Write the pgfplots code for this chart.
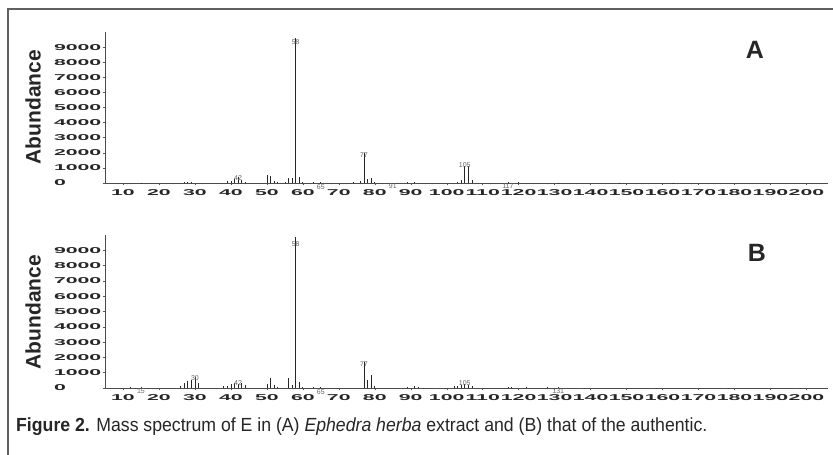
\documentclass[border=0pt]{standalone}
\usepackage{pgfplots}
\pgfplotsset{compat=1.18}
\usepackage{pgfplotstable}
\usepackage{fontspec}
\setmainfont{Liberation Sans}
\newfontfamily\tickfont[FakeStretch=2.5]{Liberation Sans}
\newfontfamily\capfont[FakeStretch=0.93]{Liberation Sans}

\pgfplotstableread{
m a
15 30
27 60
28 80
29 60
39 100
40 150
41 250
42 420
43 200
44 80
50 520
51 480
52 150
53 60
55 80
56 350
57 300
58 9600
59 380
60 50
63 40
65 60
74 40
76 100
77 2000
78 250
79 320
80 60
89 40
91 80
103 60
104 200
105 1150
106 1150
107 180
117 40
120 40
131 30
148 30
163 30
}\specA

\pgfplotstableread{
m a
12 50
15 80
26 150
27 300
28 450
29 500
30 750
31 300
38 100
39 150
40 250
41 300
42 250
43 300
44 200
50 250
51 650
52 200
53 80
56 650
57 200
58 9900
59 400
60 60
63 50
65 60
77 1700
78 500
79 850
80 100
89 60
91 150
92 60
102 100
103 150
104 200
105 250
106 200
107 150
117 80
118 60
122 40
128 40
131 50
}\specB

\tikzset{plab/.style={font=\fontsize{7}{7}\selectfont, text=gray!80!black}}
\pgfplotsset{
  spec/.style={
    scale only axis, width=723pt, height=151pt, anchor=south west,
    xmin=5, xmax=206, ymin=0, ymax=10000,
    axis x line*=bottom, axis y line*=left,
    xtick={10,20,...,200}, ytick={0,1000,...,9000},
    minor x tick num=4,
    tick align=outside, major tick length=2.5pt, minor tick length=1.5pt,
    tick style={gray!70!black, line width=0.4pt},
    axis line style={gray!60!black, line width=0.5pt},
    scaled y ticks=false, scaled x ticks=false,
    /pgf/number format/1000 sep={},
    /pgf/number format/assume math mode=true,
    ticklabel style={font=\tickfont\bfseries\fontsize{8.5}{8.5}\selectfont, text=black!85},
    xticklabel style={yshift=-1pt},
    yticklabel style={anchor=west, xshift=-52pt},
    clip=false,
  },
  peak/.style={ycomb, black!85, line width=0.7pt, mark=none},
}

\begin{document}
\begin{tikzpicture}
\useasboundingbox (0pt,0pt) rectangle (833pt,455pt);
\fill[white] (0pt,0pt) rectangle (833pt,455pt);
\draw[line width=1.5pt, color=gray!75!black] (8pt,0pt) -- (8pt,446pt) -- (833pt,446pt);

\begin{axis}[spec, at={(105pt,272pt)}]
\addplot[peak] table[x=m, y=a] {\specA};
\node[plab] at (axis cs:58,9300) {58};
\node[plab] at (axis cs:77,1850) {77};
\node[plab] at (axis cs:42,330) {42};
\node[plab] at (axis cs:105,1200) {105};
\node[plab] at (axis cs:65,-300) {65};
\node[plab] at (axis cs:85,-200) {91};
\node[plab] at (axis cs:117,-200) {117};
\end{axis}

\begin{axis}[spec, at={(105pt,67pt)}, height=153pt]
\addplot[peak] table[x=m, y=a] {\specB};
\node[plab] at (axis cs:58,9400) {58};
\node[plab] at (axis cs:77,1570) {77};
\node[plab] at (axis cs:30,650) {30};
\node[plab] at (axis cs:42,330) {42};
\node[plab] at (axis cs:105,350) {105};
\node[plab] at (axis cs:15,-200) {15};
\node[plab] at (axis cs:65,-300) {65};
\node[plab] at (axis cs:131,-200) {131};
\end{axis}

\node[rotate=90, font=\bfseries\fontsize{21}{21}\selectfont, text=black!85] at (33pt,348pt) {Abundance};
\node[rotate=90, font=\bfseries\fontsize{21}{21}\selectfont, text=black!85] at (33pt,143pt) {Abundance};
\node[font=\bfseries\fontsize{25}{25}\selectfont, text=black!85] at (755pt,405pt) {A};
\node[font=\bfseries\fontsize{25}{25}\selectfont, text=black!85] at (757pt,202pt) {B};

\node[anchor=base west, font=\capfont\fontsize{19}{19}\selectfont, text=black!85, inner sep=0pt] at (16pt,23pt) {\textbf{Figure 2.} Mass spectrum of E in (A) \textit{Ephedra herba} extract and (B) that of the authentic.};
\end{tikzpicture}
\end{document}
